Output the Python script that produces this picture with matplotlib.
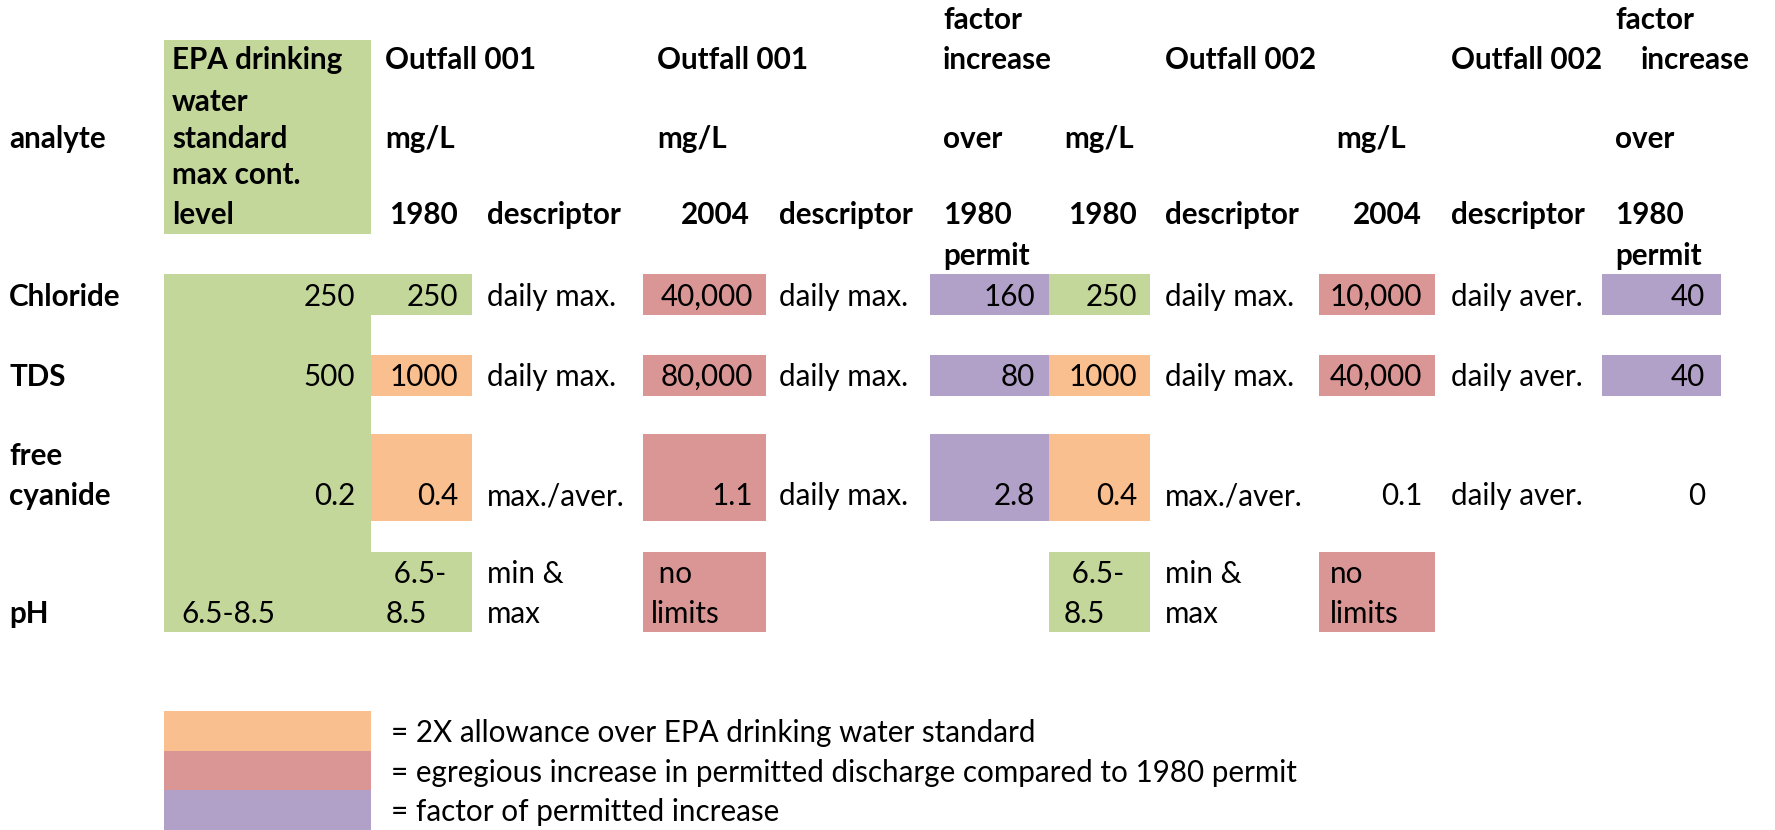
import matplotlib
matplotlib.use("Agg")
import matplotlib.pyplot as plt
from matplotlib.patches import Rectangle

plt.rcParams['font.family'] = ['Lato', 'DejaVu Sans']

# ---------------------------------------------------------
# Data (one list per spreadsheet column)
# ---------------------------------------------------------
analytes = ["Chloride", "TDS", "free\ncyanide", "pH"]
epa_std = ["250", "500", "0.2", "6.5-8.5"]
o1_1980 = ["250", "1000", "0.4", " 6.5-\n8.5"]
o1_1980_desc = ["daily max.", "daily max.", "max./aver.", "min &\nmax"]
o1_2004 = ["40,000", "80,000", "1.1", " no\nlimits"]
o1_2004_desc = ["daily max.", "daily max.", "daily max.", ""]
o1_factor = ["160", "80", "2.8", ""]
o2_1980 = ["250", "1000", "0.4", " 6.5-\n8.5"]
o2_1980_desc = ["daily max.", "daily max.", "max./aver.", "min &\nmax"]
o2_2004 = ["10,000", "40,000", "0.1", "no\nlimits"]
o2_2004_desc = ["daily aver.", "daily aver.", "daily aver.", ""]
o2_factor = ["40", "40", "0", ""]

# cell highlight categories
o1_1980_fill = ["std", "2x", "2x", "std"]
o1_2004_fill = ["egr", "egr", "egr", "egr"]
o1_factor_fill = ["fac", "fac", "fac", None]
o2_1980_fill = ["std", "2x", "2x", "std"]
o2_2004_fill = ["egr", "egr", None, "egr"]
o2_factor_fill = ["fac", "fac", None, None]

legend_keys = ["2x", "egr", "fac"]
legend_text = ["= 2X allowance over EPA drinking water standard",
               "= egregious increase in permitted discharge compared to 1980 permit",
               "= factor of permitted increase"]

colors = {"std": "#C4D79B", "2x": "#FABF8F", "egr": "#DA9694", "fac": "#B1A0C7"}

# ---------------------------------------------------------
# Layout (pixel grid of the sheet)
# ---------------------------------------------------------
W, H = 1775, 830
FS = 21.3
row_top = [274, 355, 434, 552]
row_bot = [315, 396, 521, 632]
row_lines = [[297], [377], [456, 496], [574, 614]]
hdr_lines = [20, 60, 102, 139, 175, 215, 256]

fig = plt.figure(figsize=(W / 100, H / 100), dpi=100)
ax = fig.add_axes([0, 0, 1, 1])
ax.set_xlim(0, W)
ax.set_ylim(H, 0)
ax.axis('off')


def fill(x0, x1, y0, y1, key):
    if key is None:
        return
    ax.add_patch(Rectangle((x0, y0), x1 - x0, y1 - y0, color=colors[key], lw=0, zorder=0))


def cell_text(x, r, txt, ha='left', bold=False):
    if not txt:
        return
    parts = txt.split("\n")
    ys = row_lines[r][-len(parts):]
    for p, y in zip(parts, ys):
        ax.text(x, y, p, ha=ha, va='center', fontsize=FS,
                fontweight='bold' if bold else 'normal', color='black')


def value(x_left, x_right, r, txt):
    # text entries sit left, plain numbers sit right like in the sheet
    if "\n" in txt or "-" in txt:
        cell_text(x_left, r, txt)
    else:
        cell_text(x_right, r, txt, 'right')


def hdr(x, line, txt, ha='left'):
    ax.text(x, hdr_lines[line], txt, ha=ha, va='center', fontsize=FS,
            fontweight='bold', color='black')


# EPA standard column: header box and continuous data box
fill(164, 371, 40, 234, "std")
fill(164, 371, row_top[0], row_bot[-1], "std")

# headers
hdr(9, 3, "analyte")
for i, t in enumerate(["EPA drinking", "water", "standard", "max cont.", "level"]):
    hdr(172, i + 1, t)
hdr(385, 1, "Outfall 001"); hdr(385, 3, "mg/L"); hdr(458, 5, "1980", 'right')
hdr(487, 5, "descriptor")
hdr(657, 1, "Outfall 001"); hdr(657, 3, "mg/L"); hdr(750, 5, "2004", 'right')
hdr(779, 5, "descriptor")
for ln, t in [(0, "factor"), (1, "increase"), (3, "over"), (5, "1980"), (6, "permit")]:
    hdr(943, ln, t)
hdr(1064, 3, "mg/L"); hdr(1137, 5, "1980", 'right')
hdr(1165, 1, "Outfall 002"); hdr(1165, 5, "descriptor")
hdr(1336, 3, "mg/L"); hdr(1422, 5, "2004", 'right')
hdr(1451, 1, "Outfall 002"); hdr(1451, 5, "descriptor")
for ln, t in [(0, "factor"), (3, "over"), (5, "1980"), (6, "permit")]:
    hdr(1615, ln, t)
hdr(1641, 1, "increase")

# data rows
for r in range(len(analytes)):
    cell_text(9, r, analytes[r], bold=True)
    value(181, 355, r, epa_std[r])
    fill(371, 472, row_top[r], row_bot[r], o1_1980_fill[r])
    value(386, 458, r, o1_1980[r])
    cell_text(487, r, o1_1980_desc[r])

    fill(643, 766, row_top[r], row_bot[r], o1_2004_fill[r])
    value(651, 753, r, o1_2004[r])
    cell_text(779, r, o1_2004_desc[r])

    fill(930, 1049, row_top[r], row_bot[r], o1_factor_fill[r])
    cell_text(1035, r, o1_factor[r], 'right')

    fill(1049, 1150, row_top[r], row_bot[r], o2_1980_fill[r])
    value(1064, 1137, r, o2_1980[r])
    cell_text(1165, r, o2_1980_desc[r])

    fill(1319, 1435, row_top[r], row_bot[r], o2_2004_fill[r])
    value(1330, 1422, r, o2_2004[r])
    cell_text(1451, r, o2_2004_desc[r])

    fill(1602, 1721, row_top[r], row_bot[r], o2_factor_fill[r])
    cell_text(1705, r, o2_factor[r], 'right')

# legend
leg_top = [711, 751, 790]
leg_bot = [751, 790, 830]
for k, t, y0, y1 in zip(legend_keys, legend_text, leg_top, leg_bot):
    fill(164, 371, y0, y1, k)
    ax.text(391, (y0 + y1) / 2 + 2, t, ha='left', va='center', fontsize=FS, color='black')

fig.savefig("out.png", dpi=100)
